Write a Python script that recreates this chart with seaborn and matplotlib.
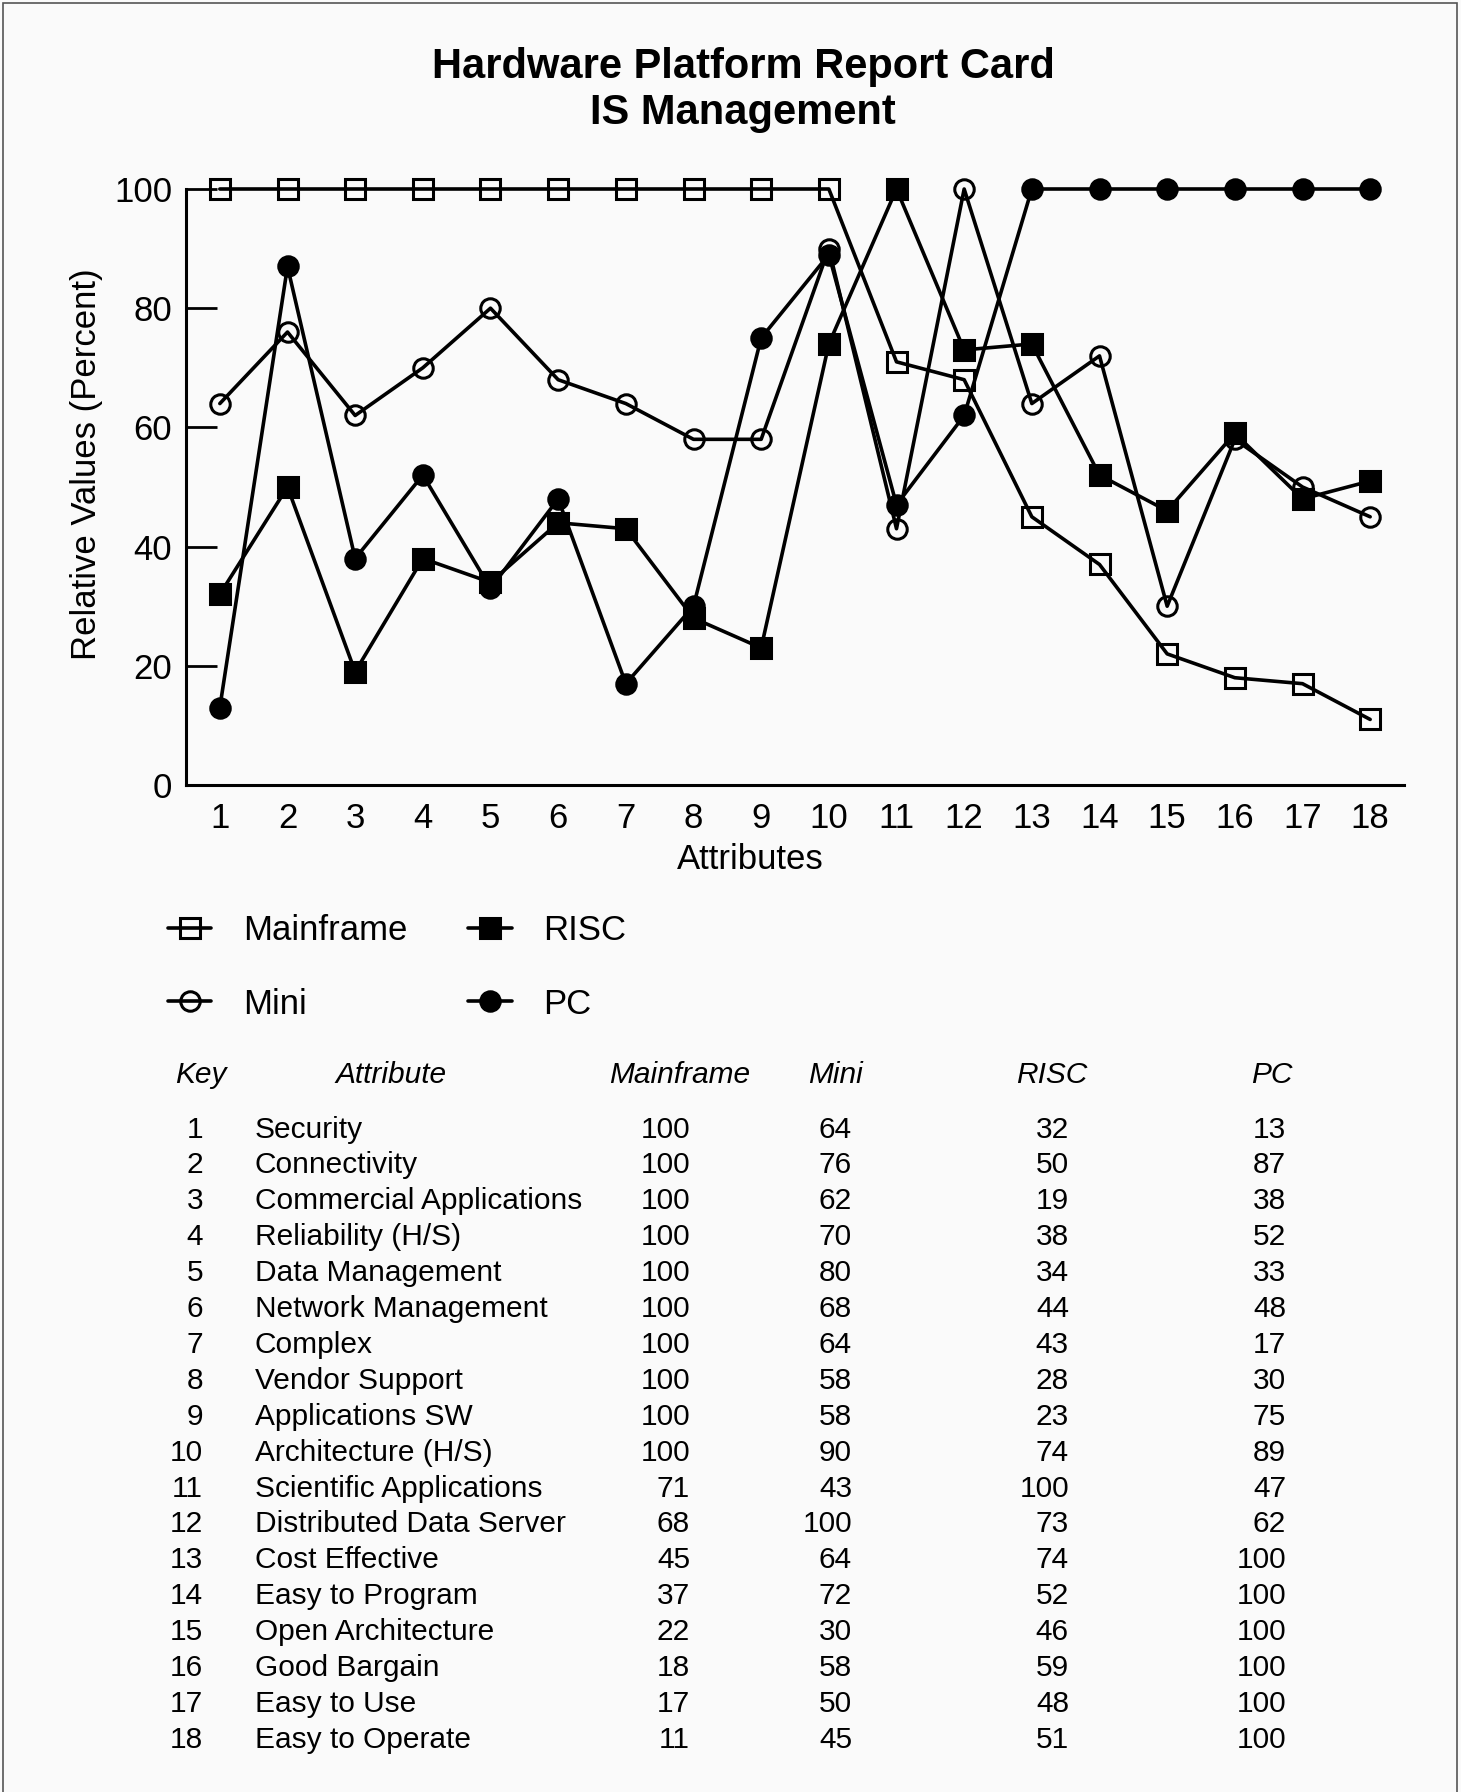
import numpy as np
import matplotlib
matplotlib.use("Agg")
import matplotlib.pyplot as plt
import seaborn as sns
from matplotlib.patches import Rectangle

# data (from the table in the reference)
keys = list(range(1, 19))
attributes = ["Security", "Connectivity", "Commercial Applications",
              "Reliability (H/S)", "Data Management", "Network Management",
              "Complex", "Vendor Support", "Applications SW",
              "Architecture (H/S)", "Scientific Applications",
              "Distributed Data Server", "Cost Effective", "Easy to Program",
              "Open Architecture", "Good Bargain", "Easy to Use",
              "Easy to Operate"]
mainframe = [100, 100, 100, 100, 100, 100, 100, 100, 100, 100, 71, 68, 45, 37, 22, 18, 17, 11]
mini = [64, 76, 62, 70, 80, 68, 64, 58, 58, 90, 43, 100, 64, 72, 30, 58, 50, 45]
risc = [32, 50, 19, 38, 34, 44, 43, 28, 23, 74, 100, 73, 74, 52, 46, 59, 48, 51]
pc = [13, 87, 38, 52, 33, 48, 17, 30, 75, 89, 47, 62, 100, 100, 100, 100, 100, 100]
yticks = [0, 20, 40, 60, 80, 100]

sns.set_theme(style="white")
plt.rcParams['font.family'] = ['Liberation Sans', 'DejaVu Sans']
plt.rcParams['text.color'] = 'black'
plt.rcParams['axes.labelcolor'] = 'black'

W, H = 1461, 1792
fig = plt.figure(figsize=(W / 100, H / 100), dpi=100, facecolor="#fafafa")

def fx(px):
    return px / W

def fy(py):
    return 1 - py / H

# axes: left 186, right 1404, top 189, bottom 785 (pixels)
ax = fig.add_axes([fx(186), fy(785), fx(1404 - 186), (785 - 189) / H])
ax.set_facecolor("#fafafa")

series = [("Mainframe", mainframe, "s", "none"),
          ("Mini", mini, "o", "none"),
          ("RISC", risc, "s", "black"),
          ("PC", pc, "o", "black")]
for name, vals, mk, fc in series:
    sns.lineplot(x=keys, y=vals, ax=ax, color="black", lw=2.6, marker=mk,
                 markersize=14, markerfacecolor=fc, markeredgecolor="black",
                 markeredgewidth=2.2, clip_on=False, label=name)

ax.set_xlim(0.5, 18.5)
ax.set_ylim(0, 100)
ax.set_xticks(keys)
ax.set_yticks(yticks)
ax.tick_params(axis="x", bottom=False, length=0, pad=12, labelsize=25,
               colors="black")
ax.tick_params(axis="y", left=True, direction="in", length=22, width=2,
               pad=10, labelsize=25, colors="black")
for s in ["top", "right"]:
    ax.spines[s].set_visible(False)
for s in ["left", "bottom"]:
    ax.spines[s].set_linewidth(2.2)
    ax.spines[s].set_color("black")

ax.set_xlabel("Attributes", fontsize=25)
ax.xaxis.set_label_coords((750 - 186) / 1218, -0.098)
ax.set_ylabel("Relative Values (Percent)", fontsize=25)
ax.yaxis.set_label_coords(-0.068, (785 - 464) / 596)

handles, labels = ax.get_legend_handles_labels()
ax.legend(handles, labels, ncol=2, loc="upper left",
          bbox_to_anchor=(fx(168), fy(914)), bbox_transform=fig.transFigure,
          frameon=False, fontsize=25, handlelength=1.25, handletextpad=0.9,
          columnspacing=1.76, labelspacing=1.17, borderpad=0, borderaxespad=0)

fig.text(fx(743), fy(90), "Hardware Platform Report Card\nIS Management",
         ha="center", va="center", fontsize=30, fontweight="bold",
         linespacing=1.22)

# table below the chart
hdr_y = 1075
row0, step = 1129.5, 35.9
tfs = 21.5
headers = [("Key", 201), ("Attribute", 391), ("Mainframe", 680),
           ("Mini", 835), ("RISC", 1052), ("PC", 1272)]
for txt, x in headers:
    fig.text(fx(x), fy(hdr_y), txt, ha="center", va="center",
             fontsize=tfs, style="italic")

for i, k in enumerate(keys):
    y = fy(row0 + i * step)
    fig.text(fx(203), y, str(k), ha="right", va="center", fontsize=tfs)
    fig.text(fx(255), y, attributes[i], ha="left", va="center", fontsize=tfs)
    fig.text(fx(690), y, str(mainframe[i]), ha="right", va="center", fontsize=tfs)
    fig.text(fx(852), y, str(mini[i]), ha="right", va="center", fontsize=tfs)
    fig.text(fx(1069), y, str(risc[i]), ha="right", va="center", fontsize=tfs)
    fig.text(fx(1286), y, str(pc[i]), ha="right", va="center", fontsize=tfs)

# thin page frame
fig.patches.append(Rectangle((fx(3), -0.01), fx(1457 - 3), 1.01 - 3 / H,
                             transform=fig.transFigure, fill=False,
                             edgecolor="#555555", lw=1.2))

fig.savefig("out.png", dpi=100, facecolor=fig.get_facecolor())
